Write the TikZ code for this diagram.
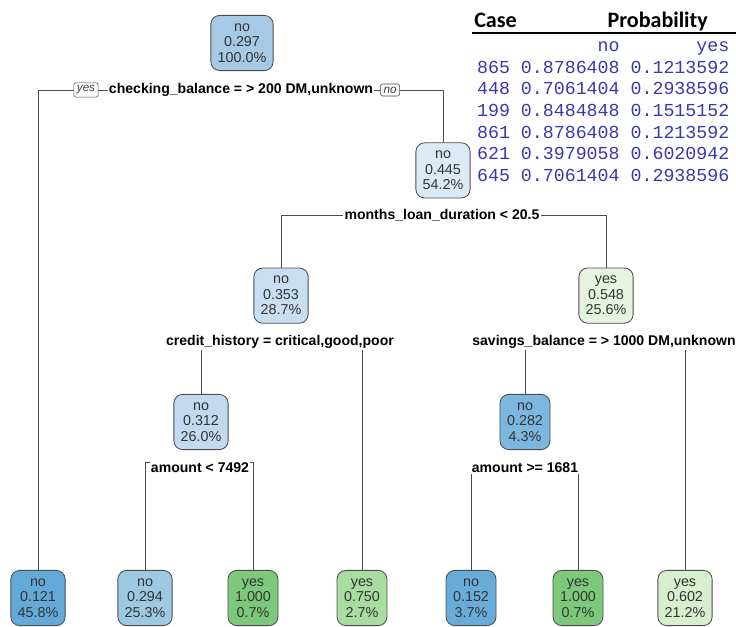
\documentclass[tikz,border=0pt]{standalone}
\usepackage{fontspec}
\setmainfont{Liberation Sans}
\setmonofont{Liberation Mono}
\newfontfamily\hdrfont{Carlito}
\usetikzlibrary{backgrounds}

\begin{document}
\begin{tikzpicture}[
  tbox/.style={draw=black!70, line width=0.6pt, rounded corners=0.22cm, minimum width=1.25cm, minimum height=1.38cm,
    inner xsep=0.17cm, inner ysep=0pt, align=center, text=black!80, font=\fontsize{10.2pt}{11pt}\selectfont},
  cond/.style={fill=white, inner sep=1pt, text=black, font=\fontsize{10pt}{12pt}\selectfont\bfseries},
  tag/.style={draw=black!70, fill=white, rounded corners=1.5pt, inner xsep=2.2pt, inner ysep=2pt, text=black!75,
    font=\fontsize{8.3pt}{9pt}\selectfont\itshape},
  hdr/.style={anchor=base west, inner sep=0pt, font=\hdrfont\fontsize{15.7pt}{18pt}\selectfont\bfseries},
  prow/.style={anchor=base west, inner sep=0pt, text=pBlue, font=\ttfamily\fontsize{13pt}{15pt}\selectfont},
  branch/.style={draw=black!70, line width=0.6pt},
]
\definecolor{tBlue1}{HTML}{64AAD8}\definecolor{tBlue2}{HTML}{68ADDA}\definecolor{tBlue3}{HTML}{7BB7DE}
\definecolor{tBlue4}{HTML}{9DC9E3}\definecolor{tBlue5}{HTML}{A6CAE5}\definecolor{tBlue6}{HTML}{C3D9EF}
\definecolor{tBlue7}{HTML}{CADEF2}\definecolor{tBlue8}{HTML}{DCE9F6}
\definecolor{tGrn1}{HTML}{E6F4DF}\definecolor{tGrn2}{HTML}{D7EFCF}\definecolor{tGrn3}{HTML}{A9DCA0}\definecolor{tGrn4}{HTML}{7DC97B}
\definecolor{pBlue}{HTML}{3838B0}
\useasboundingbox (0,0) rectangle (18.4,-15.65);
% ---- inner nodes ----
\node[tbox, fill=tBlue5] (n1) at (6.05,-1.075) {no\\0.297\\100.0\%};
\node[tbox, fill=tBlue8] (n2) at (11.075,-4.26) {no\\0.445\\54.2\%};
\node[tbox, fill=tBlue7] (n3) at (7.025,-7.39) {no\\0.353\\28.7\%};
\node[tbox, fill=tGrn1] (n4) at (15.15,-7.39) {yes\\0.548\\25.6\%};
\node[tbox, fill=tBlue6] (n5) at (5.025,-10.55) {no\\0.312\\26.0\%};
\node[tbox, fill=tBlue3] (n6) at (13.125,-10.55) {no\\0.282\\4.3\%};
% ---- leaves ----
\node[tbox, fill=tBlue1] (l1) at (0.95,-14.95) {no\\0.121\\45.8\%};
\node[tbox, fill=tBlue4] (l2) at (3.625,-14.95) {no\\0.294\\25.3\%};
\node[tbox, fill=tGrn4] (l3) at (6.325,-14.95) {yes\\1.000\\0.7\%};
\node[tbox, fill=tGrn3] (l4) at (9.05,-14.95) {yes\\0.750\\2.7\%};
\node[tbox, fill=tBlue2] (l5) at (11.775,-14.95) {no\\0.152\\3.7\%};
\node[tbox, fill=tGrn4] (l6) at (14.45,-14.95) {yes\\1.000\\0.7\%};
\node[tbox, fill=tGrn2] (l7) at (17.125,-14.95) {yes\\0.602\\21.2\%};
% ---- split labels ----
\node[cond] (s1) at (6.025,-2.25) {checking\_balance = > 200 DM,unknown};
\node[tag] (yes) at (2.15,-2.25) {yes};
\node[tag] (no) at (9.75,-2.25) {no};
\node[cond] (s2) at (11.05,-5.375) {months\_loan\_duration < 20.5};
\node[cond] (s3) at (7.0,-8.55) {credit\_history = critical,good,poor};
\node[cond] (s4) at (15.1,-8.55) {savings\_balance = > 1000 DM,unknown};
\node[cond] (s5) at (5.0,-11.7) {amount < 7492};
\node[cond] (s6) at (13.125,-11.7) {amount >= 1681};
% branches go under the labels
\begin{scope}[on background layer]
\draw[branch] (l1.north) |- (s1.center) -| (n2.north);
\draw[branch] (n3.north) |- (s2.center) -| (n4.north);
\draw[branch] (n5.north) |- (s3.center) -| (l4.north);
\draw[branch] (n6.north) |- (s4.center) -| (l7.north);
\draw[branch] (l2.north) |- ([yshift=1.4mm]s5.center) -| (l3.north);
\draw[branch] (l5.north) |- (s6.center) -| (l6.north);
\end{scope}
% ---- probability table ----
\node[hdr] (case) at (11.85,-0.7) {Case};
\node[hdr, anchor=base east] (prob) at (17.7,-0.7) {Probability};
\draw[line width=1.4pt] (11.8,-0.825) -- (18.4,-0.825);
\node[prow] (rh) at (11.92,-1.29) {\phantom{00000000000}no\phantom{0000000}yes};
\foreach \c/\p/\q [count=\i] in {865/0.8786408/0.1213592, 448/0.7061404/0.2938596, 199/0.8484848/0.1515152,
    861/0.8786408/0.1213592, 621/0.3979058/0.6020942, 645/0.7061404/0.2938596}
  \node[prow] (r\i) at (11.92,{-1.29-0.5417*\i}) {\c\phantom{0}\p\phantom{0}\q};
\end{tikzpicture}
\end{document}
